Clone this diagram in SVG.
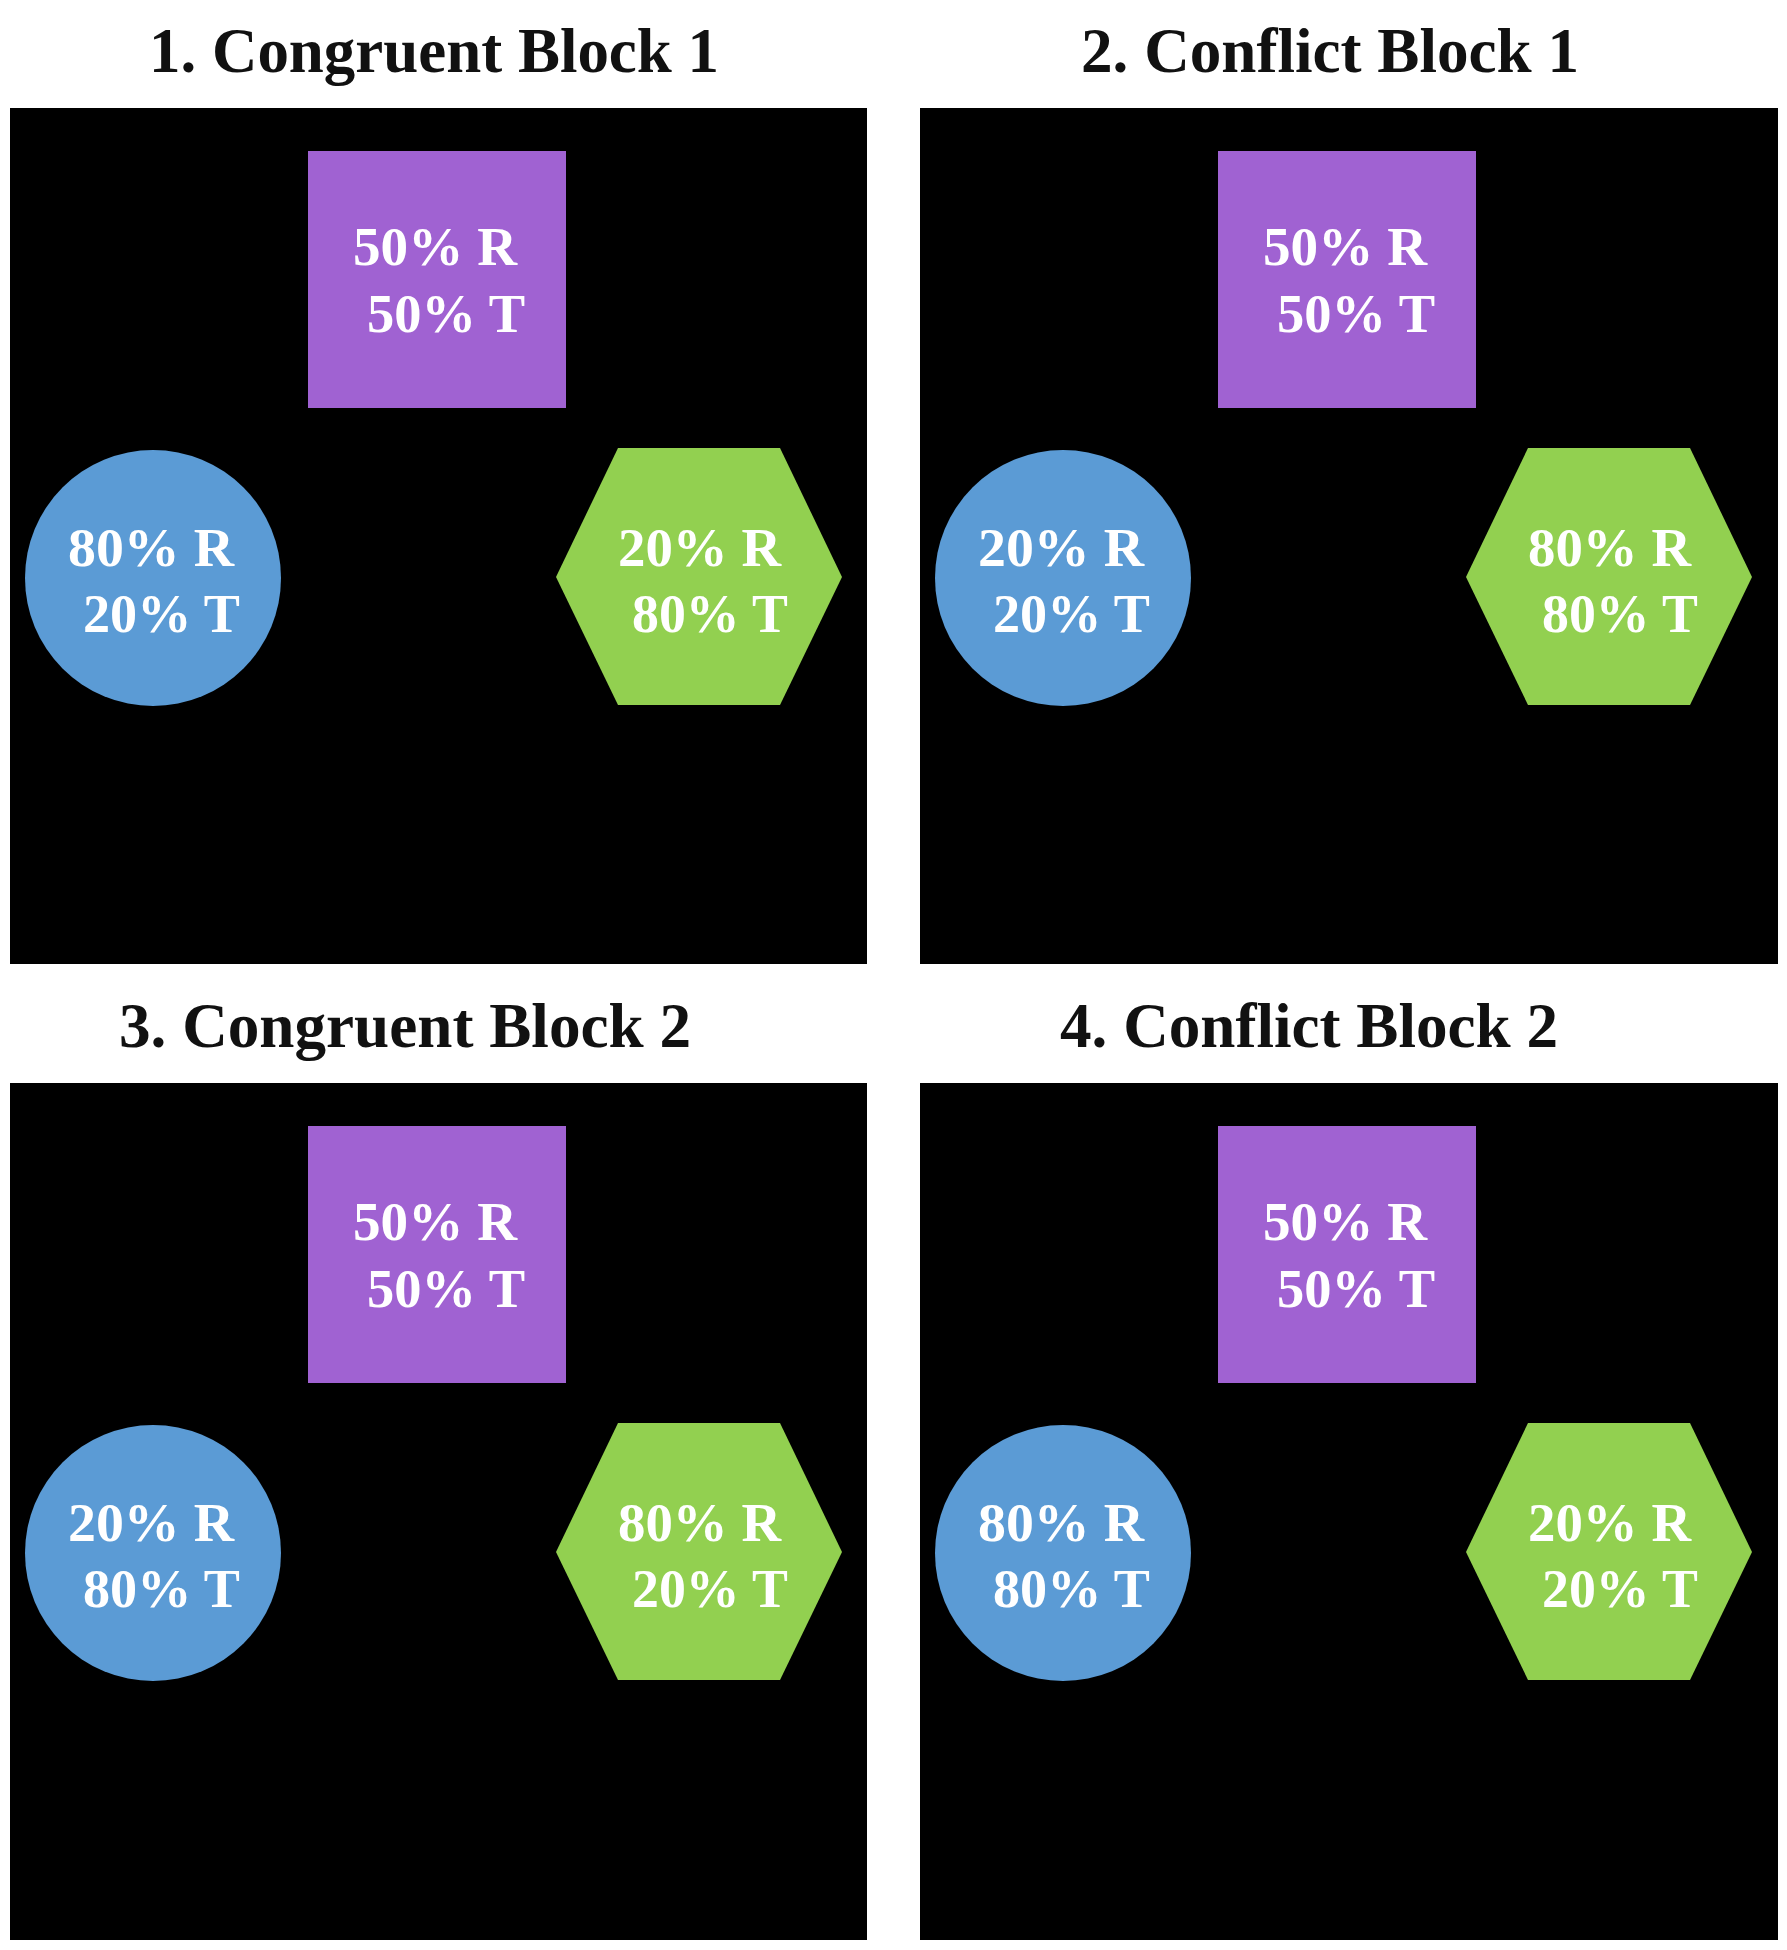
<svg xmlns="http://www.w3.org/2000/svg" width="1787" height="1950" viewBox="0 0 1787 1950">
<style>
.title{font-family:"Liberation Serif","Times New Roman",serif;font-weight:bold;font-size:64px;fill:#111111;}
.lbl{font-family:"Liberation Serif","Times New Roman",serif;font-weight:bold;font-size:54px;fill:#ffffff;}
.panel{fill:#000000;}
.sq{fill:#a062d2;}
.ci{fill:#5b9bd5;}
.hx{fill:#92d050;}
</style>
<defs>
<polygon id="hex" points="556,577 618,448 780,448 842,577 780,705 618,705"/>
</defs>
<rect width="1787" height="1950" fill="#ffffff"/>

<g id="block1">
<text class="title" x="149" y="72" textLength="570" lengthAdjust="spacingAndGlyphs">1. Congruent Block 1</text>
<rect class="panel" x="10" y="108" width="857" height="856"/>
<g id="b1-square"><rect class="sq" x="308" y="151" width="258" height="257"/>
<text class="lbl" x="353" y="265" textLength="164" lengthAdjust="spacingAndGlyphs">50% R</text>
<text class="lbl" x="367" y="332" textLength="158" lengthAdjust="spacingAndGlyphs">50% T</text></g>
<g id="b1-circle"><circle class="ci" cx="153" cy="578" r="128"/>
<text class="lbl" x="68" y="566" textLength="166" lengthAdjust="spacingAndGlyphs">80% R</text>
<text class="lbl" x="83" y="632" textLength="157" lengthAdjust="spacingAndGlyphs">20% T</text></g>
<g id="b1-hex"><use href="#hex" class="hx"/>
<text class="lbl" x="618" y="566" textLength="163" lengthAdjust="spacingAndGlyphs">20% R</text>
<text class="lbl" x="632" y="632" textLength="156" lengthAdjust="spacingAndGlyphs">80% T</text></g>
</g>

<g id="block2" transform="translate(910,0)">
<text class="title" x="171" y="72" textLength="498" lengthAdjust="spacingAndGlyphs">2. Conflict Block 1</text>
<rect class="panel" x="10" y="108" width="858" height="856"/>
<g id="b2-square"><rect class="sq" x="308" y="151" width="258" height="257"/>
<text class="lbl" x="353" y="265" textLength="164" lengthAdjust="spacingAndGlyphs">50% R</text>
<text class="lbl" x="367" y="332" textLength="158" lengthAdjust="spacingAndGlyphs">50% T</text></g>
<g id="b2-circle"><circle class="ci" cx="153" cy="578" r="128"/>
<text class="lbl" x="68" y="566" textLength="166" lengthAdjust="spacingAndGlyphs">20% R</text>
<text class="lbl" x="83" y="632" textLength="157" lengthAdjust="spacingAndGlyphs">20% T</text></g>
<g id="b2-hex"><use href="#hex" class="hx"/>
<text class="lbl" x="618" y="566" textLength="163" lengthAdjust="spacingAndGlyphs">80% R</text>
<text class="lbl" x="632" y="632" textLength="156" lengthAdjust="spacingAndGlyphs">80% T</text></g>
</g>

<g id="block3" transform="translate(0,975)">
<text class="title" x="119" y="72" textLength="572" lengthAdjust="spacingAndGlyphs">3. Congruent Block 2</text>
<rect class="panel" x="10" y="108" width="857" height="857"/>
<g id="b3-square"><rect class="sq" x="308" y="151" width="258" height="257"/>
<text class="lbl" x="353" y="265" textLength="164" lengthAdjust="spacingAndGlyphs">50% R</text>
<text class="lbl" x="367" y="332" textLength="158" lengthAdjust="spacingAndGlyphs">50% T</text></g>
<g id="b3-circle"><circle class="ci" cx="153" cy="578" r="128"/>
<text class="lbl" x="68" y="566" textLength="166" lengthAdjust="spacingAndGlyphs">20% R</text>
<text class="lbl" x="83" y="632" textLength="157" lengthAdjust="spacingAndGlyphs">80% T</text></g>
<g id="b3-hex"><use href="#hex" class="hx"/>
<text class="lbl" x="618" y="566" textLength="163" lengthAdjust="spacingAndGlyphs">80% R</text>
<text class="lbl" x="632" y="632" textLength="156" lengthAdjust="spacingAndGlyphs">20% T</text></g>
</g>

<g id="block4" transform="translate(910,975)">
<text class="title" x="150" y="72" textLength="498" lengthAdjust="spacingAndGlyphs">4. Conflict Block 2</text>
<rect class="panel" x="10" y="108" width="858" height="857"/>
<g id="b4-square"><rect class="sq" x="308" y="151" width="258" height="257"/>
<text class="lbl" x="353" y="265" textLength="164" lengthAdjust="spacingAndGlyphs">50% R</text>
<text class="lbl" x="367" y="332" textLength="158" lengthAdjust="spacingAndGlyphs">50% T</text></g>
<g id="b4-circle"><circle class="ci" cx="153" cy="578" r="128"/>
<text class="lbl" x="68" y="566" textLength="166" lengthAdjust="spacingAndGlyphs">80% R</text>
<text class="lbl" x="83" y="632" textLength="157" lengthAdjust="spacingAndGlyphs">80% T</text></g>
<g id="b4-hex"><use href="#hex" class="hx"/>
<text class="lbl" x="618" y="566" textLength="163" lengthAdjust="spacingAndGlyphs">20% R</text>
<text class="lbl" x="632" y="632" textLength="156" lengthAdjust="spacingAndGlyphs">20% T</text></g>
</g>

<g id="connectors"></g>
</svg>
